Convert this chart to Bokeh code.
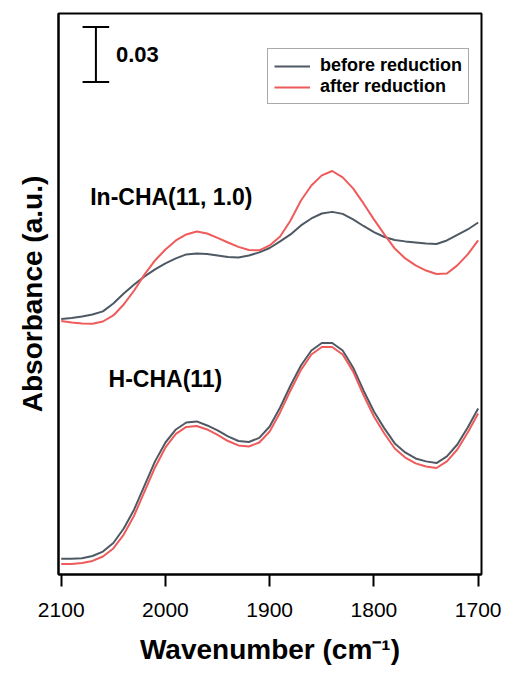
from bokeh.plotting import figure
from bokeh.models import Range1d, FixedTicker, Label, Legend, LegendItem
from bokeh.embed import file_html
from bokeh.resources import INLINE

# ---------------- data ----------------
wavenumber = [2100, 2090, 2080, 2070, 2060, 2050, 2040, 2030, 2020, 2010,
              2000, 1990, 1980, 1970, 1960, 1950, 1940, 1930, 1920, 1910,
              1900, 1890, 1880, 1870, 1860, 1850, 1840, 1830, 1820, 1810,
              1800, 1790, 1780, 1770, 1760, 1750, 1740, 1730, 1720, 1710, 1700]

# H-CHA(11) absorbance (stack base)
h_cha_before = [0.0086, 0.0086, 0.0089, 0.0101, 0.0125, 0.0172, 0.0251, 0.0355, 0.0486, 0.0617,
                0.0720, 0.0791, 0.0829, 0.0835, 0.0813, 0.0786, 0.0753, 0.0728, 0.0723, 0.0745,
                0.0807, 0.0911, 0.1031, 0.1140, 0.1222, 0.1263, 0.1263, 0.1222, 0.1129, 0.1004,
                0.0889, 0.0797, 0.0715, 0.0666, 0.0633, 0.0617, 0.0608, 0.0644, 0.0709, 0.0802, 0.0906]
h_cha_after = [0.0057, 0.0057, 0.0063, 0.0074, 0.0098, 0.0142, 0.0218, 0.0322, 0.0453, 0.0584,
               0.0693, 0.0767, 0.0805, 0.0810, 0.0791, 0.0761, 0.0728, 0.0704, 0.0698, 0.0720,
               0.0780, 0.0884, 0.1004, 0.1116, 0.1200, 0.1241, 0.1241, 0.1200, 0.1108, 0.0979,
               0.0862, 0.0769, 0.0687, 0.0638, 0.0606, 0.0589, 0.0581, 0.0617, 0.0682, 0.0775, 0.0878]

# In-CHA(11, 1.0) absorbance (plotted with a stacking offset)
in_cha_before = [0.0303, 0.0308, 0.0316, 0.0327, 0.0344, 0.0387, 0.0442, 0.0491, 0.0535, 0.0573,
                 0.0606, 0.0633, 0.0655, 0.0660, 0.0657, 0.0649, 0.0641, 0.0638, 0.0649, 0.0666,
                 0.0690, 0.0726, 0.0764, 0.0813, 0.0851, 0.0878, 0.0887, 0.0876, 0.0846, 0.0810,
                 0.0777, 0.0750, 0.0734, 0.0726, 0.0720, 0.0715, 0.0712, 0.0731, 0.0761, 0.0791, 0.0829]
in_cha_after = [0.0292, 0.0284, 0.0278, 0.0277, 0.0289, 0.0322, 0.0382, 0.0458, 0.0546, 0.0622,
                0.0682, 0.0731, 0.0764, 0.0780, 0.0769, 0.0745, 0.0720, 0.0696, 0.0679, 0.0677,
                0.0704, 0.0753, 0.0840, 0.0949, 0.1031, 0.1086, 0.1110, 0.1075, 0.1015, 0.0933,
                0.0846, 0.0764, 0.0687, 0.0633, 0.0595, 0.0567, 0.0548, 0.0551, 0.0595, 0.0655, 0.0731]
in_cha_offset = 0.1091

x_ticks = [2100, 2000, 1900, 1800, 1700]
series_names = ["before reduction", "after reduction"]
sample_names = ["In-CHA(11, 1.0)", "H-CHA(11)"]
scale_bar_value = 0.03

# ---------------- style ----------------
GREY = "#4e5964"
RED = "#ef5b5b"
FONT = "Liberation Sans"

p = figure(width=509, height=675, output_backend="svg", toolbar_location=None,
           x_range=Range1d(2102.6, 1696.8), y_range=Range1d(0, 0.306),
           min_border_left=58, min_border_right=28, min_border_top=13,
           min_border_bottom=101)
p.xgrid.visible = False
p.ygrid.visible = False
p.outline_line_color = "black"
p.outline_line_width = 2
p.outline_line_alpha = 1.0
p.background_fill_color = "white"
p.border_fill_color = "white"

xa = p.xaxis[0]
xa.ticker = FixedTicker(ticks=x_ticks, minor_ticks=[])
xa.major_tick_out = 12
xa.major_tick_in = 0
xa.major_tick_line_width = 2
xa.axis_line_width = 2
xa.major_label_text_font = FONT
xa.major_label_text_font_size = "21px"
xa.major_label_text_color = "black"
xa.major_label_standoff = 16
xa.axis_label = "Wavenumber (cm\u207b\u00b9)"
xa.axis_label_text_font = FONT
xa.axis_label_text_font_size = "28px"
xa.axis_label_text_font_style = "bold"
xa.axis_label_text_color = "black"
xa.axis_label_standoff = 14

ya = p.yaxis[0]
ya.ticker = FixedTicker(ticks=[], minor_ticks=[])
ya.major_tick_line_color = None
ya.minor_tick_line_color = None
ya.major_label_text_font_size = "0px"
ya.axis_line_width = 2
ya.axis_label = "Absorbance (a.u.)"
ya.axis_label_text_font = FONT
ya.axis_label_text_font_size = "28px"
ya.axis_label_text_font_style = "bold"
ya.axis_label_text_color = "black"
ya.axis_label_standoff = 11

# curves
common = dict(line_width=2, line_join="round")
p.line(wavenumber, h_cha_before, line_color=GREY, **common)
p.line(wavenumber, h_cha_after, line_color=RED, **common)
r_before = p.line(wavenumber, [v + in_cha_offset for v in in_cha_before], line_color=GREY, **common)
r_after = p.line(wavenumber, [v + in_cha_offset for v in in_cha_after], line_color=RED, **common)

# scale bar
sb_x, sb_x0, sb_x1, sb_base = 2066.7, 2079.5, 2054.0, 0.2686
sb_top = sb_base + scale_bar_value
p.segment(x0=[sb_x, sb_x0, sb_x0], y0=[sb_base, sb_base, sb_top],
          x1=[sb_x, sb_x1, sb_x1], y1=[sb_top, sb_base, sb_top],
          line_color="black", line_width=2)
p.add_layout(Label(x=2047.5, y=sb_base + scale_bar_value / 2, text=f"{scale_bar_value:.2f}",
                   text_font=FONT, text_font_size="22px", text_font_style="bold",
                   text_baseline="middle", text_align="left", text_color="black"))

# sample labels
p.add_layout(Label(x=2072.2, y=0.2058, text=sample_names[0], text_font=FONT,
                   text_font_size="23px", text_font_style="bold",
                   text_baseline="middle", text_align="left", text_color="black"))
p.add_layout(Label(x=2054.6, y=0.1068, text=sample_names[1], text_font=FONT,
                   text_font_size="23px", text_font_style="bold",
                   text_baseline="middle", text_align="left", text_color="black"))

legend = Legend(items=[LegendItem(label=series_names[0], renderers=[r_before]),
                       LegendItem(label=series_names[1], renderers=[r_after])],
                location=(209, 470))
legend.label_text_font = FONT
legend.label_text_font_size = "18px"
legend.label_text_font_style = "bold"
legend.label_text_color = "black"
legend.glyph_width = 36
legend.glyph_height = 20
legend.label_height = 20
legend.spacing = 0
legend.padding = 6
legend.margin = 0
legend.label_standoff = 10
legend.border_line_color = "#555555"
legend.border_line_width = 1
legend.background_fill_alpha = 1.0
p.add_layout(legend)

open("out.html", "w").write(file_html(p, INLINE))
